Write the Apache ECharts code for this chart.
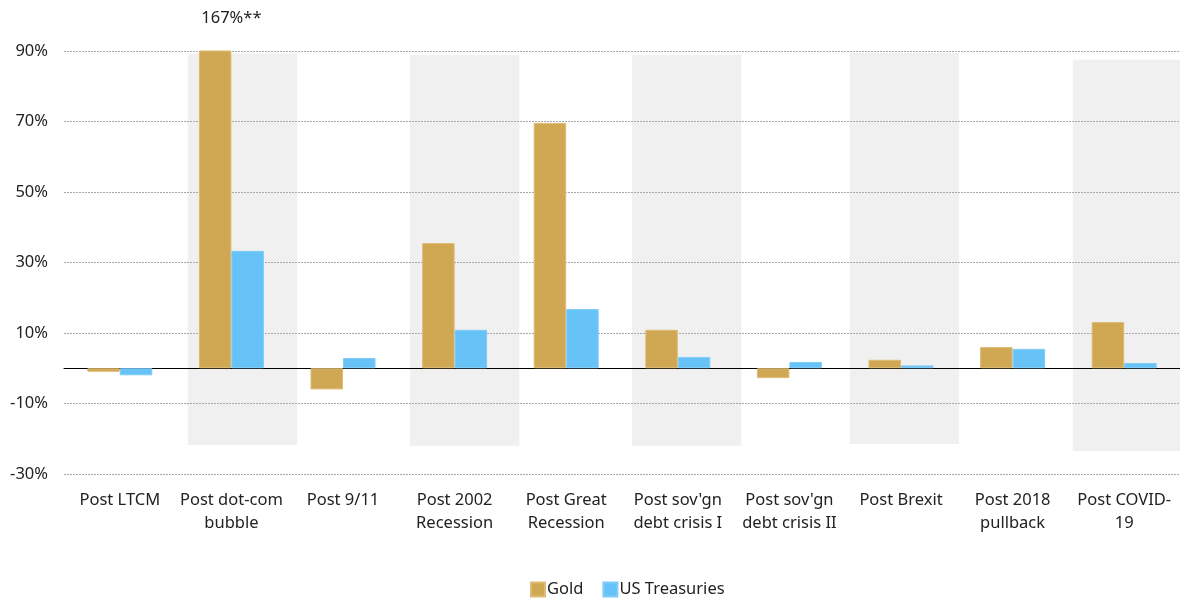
<!DOCTYPE html>
<html>
<head>
<meta charset="utf-8">
<title>Gold vs US Treasuries</title>
<script src="https://cdn.jsdelivr.net/npm/echarts@6/dist/echarts.min.js"></script>
<style>
  html, body { margin: 0; padding: 0; background: #ffffff; }
  #chart { width: 1180px; height: 599px; }
</style>
</head>
<body>
<div id="chart"></div>
<script>
// Episodes along the x axis
const categories = [
  'Post LTCM', 'Post dot-com\nbubble', 'Post 9/11', 'Post 2002\nRecession', 'Post Great\nRecession',
  "Post sov'gn\ndebt crisis I", "Post sov'gn\ndebt crisis II", 'Post Brexit', 'Post 2018\npullback', 'Post COVID-\n19'
];

// Returns (%) per episode
const goldValues = [-1.0, 167, -6.0, 35.5, 69.6, 10.9, -2.8, 2.4, 6.0, 13.1];
const treasuryValues = [-2.0, 33.3, 2.9, 10.9, 16.8, 3.2, 1.8, 0.8, 5.5, 1.5];

// Y axis ticks
const yTicks = [-30, -10, 10, 30, 50, 70, 90];

// Shaded episode panels: [start, end] in category units, [top, bottom] in %
const bandStart = [1.11, 3.10, 5.09, 7.04, 9.04];
const bandEnd = [2.09, 4.08, 6.07, 8.02, 10.0];
const bandTop = [89.2, 88.9, 88.9, 89.4, 87.5];
const bandBottom = [-21.8, -22.0, -22.0, -21.5, -23.5];

const FONT = "'Noto Sans', 'Open Sans', sans-serif";
const FS = 16.5;
const bandData = bandStart.map((s, i) => [s, bandEnd[i], bandTop[i], bandBottom[i]]);

const chart = echarts.init(document.getElementById('chart'), null, { renderer: 'canvas' });

chart.setOption({
  animation: false,
  backgroundColor: '#ffffff',
  textStyle: { fontFamily: FONT },
  grid: { left: 64, right: 0, top: 51, bottom: 125, containLabel: false },
  legend: {
    top: 579,
    left: 525,
    padding: [2, 5],
    icon: 'rect',
    itemWidth: 14,
    itemHeight: 14,
    itemGap: 19,
    textStyle: { fontSize: FS, color: '#222', fontFamily: FONT, padding: [0, 0, 0, -3] },
    data: ['Gold', 'US Treasuries']
  },
  xAxis: [
    {
      type: 'category',
      data: categories,
      axisLine: { onZero: true, lineStyle: { color: '#000', width: 1 } },
      axisTick: { show: false },
      axisLabel: {
        interval: 0,
        margin: 15,
        fontSize: FS,
        lineHeight: 23,
        color: '#222',
        fontFamily: FONT
      },
      splitLine: { show: false }
    },
    { type: 'value', min: 0, max: 10, show: false }
  ],
  yAxis: {
    type: 'value',
    min: -30,
    max: 90,
    interval: 20,
    axisLine: { show: false },
    axisTick: { show: false },
    axisLabel: {
      fontSize: FS,
      color: '#222',
      margin: 16,
      fontFamily: FONT,
      formatter: v => (yTicks.includes(v) ? v + '%' : '')
    },
    splitLine: { lineStyle: { color: '#a8a8a8', type: [2, 1], width: 1 } }
  },
  series: [
    {
      name: 'bands',
      type: 'custom',
      xAxisIndex: 1,
      yAxisIndex: 0,
      z: -1,
      silent: true,
      data: bandData,
      renderItem: (params, api) => {
        const p0 = api.coord([api.value(0), api.value(2)]);
        const p1 = api.coord([api.value(1), api.value(3)]);
        return {
          type: 'rect',
          shape: { x: p0[0], y: p0[1], width: p1[0] - p0[0], height: p1[1] - p0[1] },
          style: { fill: '#f0f0f0' }
        };
      },
      // Off-scale gold return for the dot-com episode, centred over its category
      markPoint: {
        symbol: 'rect',
        symbolSize: 0,
        silent: true,
        data: [{ coord: [1.5, 90] }],
        label: {
          show: true,
          position: 'top',
          distance: 24,
          fontSize: FS,
          color: '#222',
          fontFamily: FONT,
          formatter: () => goldValues[1] + '%**'
        }
      }
    },
    {
      name: 'Gold',
      type: 'bar',
      data: goldValues,
      barWidth: 32.5,
      barGap: '0%',
      clip: true,
      itemStyle: { color: '#D0A753', borderColor: '#DDBB72', borderWidth: 1 }
    },
    {
      name: 'US Treasuries',
      type: 'bar',
      data: treasuryValues,
      barWidth: 32.5,
      barGap: '0%',
      itemStyle: { color: '#66C2F7', borderColor: '#7FCDF8', borderWidth: 1 }
    }
  ]
});
</script>
</body>
</html>
